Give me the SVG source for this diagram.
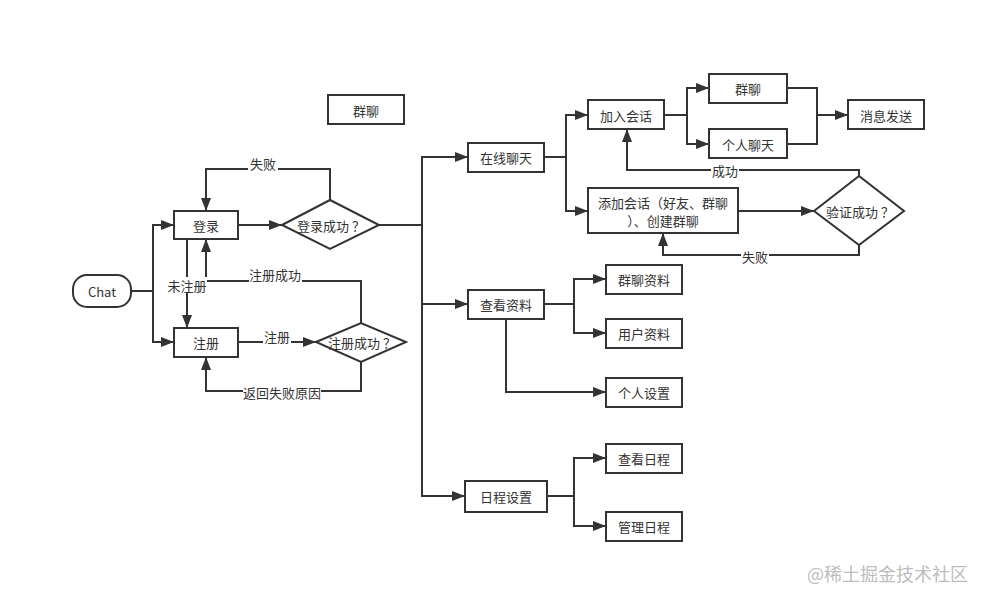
<svg xmlns="http://www.w3.org/2000/svg" width="986" height="602" viewBox="0 0 986 602">
<style>
.box{fill:#fff;stroke:#333;stroke-width:2}
.t{font-family:"Noto Sans CJK SC","Liberation Sans",sans-serif;font-size:13px;fill:#333;text-anchor:middle;dominant-baseline:central}
.c{fill:none;stroke:#333;stroke-width:2}
.lbg{fill:#fff}
.wm{font-family:"Noto Sans CJK SC",sans-serif;font-size:18px;fill:#bdbdbd;text-anchor:end;dominant-baseline:central}
</style>
<defs>
<marker id="a" markerUnits="userSpaceOnUse" markerWidth="14" markerHeight="12" refX="13" refY="5" orient="auto">
<path d="M0,0 L13,5 L0,10 Z" fill="#333"/>
</marker>
</defs>
<rect width="986" height="602" fill="#fff"/>
<g id="connectors">
<path class="c" d="M131,291 H153 V225 H174" marker-end="url(#a)"/>
<path class="c" d="M153,291 V342 H174" marker-end="url(#a)"/>
<path class="c" d="M238,225 H282" marker-end="url(#a)"/>
<path class="c" d="M330,200 V169 H206 V211" marker-end="url(#a)"/>
<path class="c" d="M187,239 V328" marker-end="url(#a)"/>
<path class="c" d="M361,323 V281 H206 V239" marker-end="url(#a)"/>
<path class="c" d="M238,342 H316" marker-end="url(#a)"/>
<path class="c" d="M361,362 V391 H206 V357" marker-end="url(#a)"/>
<path class="c" d="M379,225 H422 V157 H468" marker-end="url(#a)"/>
<path class="c" d="M422,225 V304 H468" marker-end="url(#a)"/>
<path class="c" d="M422,304 V496 H465" marker-end="url(#a)"/>
<path class="c" d="M544,157 H566 V115 H588" marker-end="url(#a)"/>
<path class="c" d="M566,157 V211 H588" marker-end="url(#a)"/>
<path class="c" d="M664,115 H687 V88 H709" marker-end="url(#a)"/>
<path class="c" d="M687,115 V144 H709" marker-end="url(#a)"/>
<path class="c" d="M787,88 H817 V144 H787"/>
<path class="c" d="M817,115 H848" marker-end="url(#a)"/>
<path class="c" d="M738,211 H814" marker-end="url(#a)"/>
<path class="c" d="M859,176 V170 H627 V129" marker-end="url(#a)"/>
<path class="c" d="M859,245 V255 H663 V233" marker-end="url(#a)"/>
<path class="c" d="M544,304 H574 V279 H606" marker-end="url(#a)"/>
<path class="c" d="M574,304 V333 H606" marker-end="url(#a)"/>
<path class="c" d="M506,319 V392 H606" marker-end="url(#a)"/>
<path class="c" d="M547,496 H574 V458 H606" marker-end="url(#a)"/>
<path class="c" d="M574,496 V526 H606" marker-end="url(#a)"/>
<g id="labels">
<rect class="lbg" x="248" y="155" width="30" height="16"/><text class="t" x="263" y="163">失败</text>
<rect class="lbg" x="167" y="277" width="40" height="16"/><text class="t" x="187" y="285">未注册</text>
<rect class="lbg" x="249" y="266" width="53" height="16"/><text class="t" x="275" y="274">注册成功</text>
<rect class="lbg" x="263" y="328" width="28" height="15"/><text class="t" x="277" y="336">注册</text>
<rect class="lbg" x="243" y="384" width="78" height="16"/><text class="t" x="282" y="392">返回失败原因</text>
<rect class="lbg" x="711" y="162" width="28" height="16"/><text class="t" x="725" y="170">成功</text>
<rect class="lbg" x="741" y="248" width="28" height="16"/><text class="t" x="755" y="256">失败</text>
</g>
</g>
<g id="chat"><rect class="box" x="73" y="275" width="58" height="32" rx="14"/><text class="t" x="102" y="291">Chat</text></g>
<g id="login"><rect class="box" x="174" y="211" width="64" height="28"/><text class="t" x="206" y="225">登录</text></g>
<g id="register"><rect class="box" x="174" y="328" width="64" height="29"/><text class="t" x="206" y="342">注册</text></g>
<g id="loginOk"><polygon class="box" points="282,225 330,200 379,225 330,249"/><text class="t" x="331" y="225">登录成功<tspan dx="3">？</tspan></text></g>
<g id="regOk"><polygon class="box" points="316,342 361,323 406,342 361,362"/><text class="t" x="362" y="342">注册成功<tspan dx="3">？</tspan></text></g>
<g id="groupChatTop"><rect class="box" x="328" y="95" width="76" height="29"/><text class="t" x="366" y="110">群聊</text></g>
<g id="online"><rect class="box" x="468" y="143" width="76" height="29"/><text class="t" x="506" y="157">在线聊天</text></g>
<g id="join"><rect class="box" x="588" y="100" width="76" height="29"/><text class="t" x="626" y="115">加入会话</text></g>
<g id="add"><rect class="box" x="588" y="188" width="150" height="45"/><text class="t" x="663" y="202">添加会话（好友、群聊</text><text class="t" x="663" y="220">）、创建群聊</text></g>
<g id="group"><rect class="box" x="709" y="74" width="78" height="29"/><text class="t" x="748" y="88">群聊</text></g>
<g id="personal"><rect class="box" x="709" y="129" width="78" height="29"/><text class="t" x="748" y="144">个人聊天</text></g>
<g id="send"><rect class="box" x="848" y="100" width="76" height="29"/><text class="t" x="886" y="115">消息发送</text></g>
<g id="verify"><polygon class="box" points="814,211 859,176 904,211 859,245"/><text class="t" x="860" y="211">验证成功<tspan dx="3">？</tspan></text></g>
<g id="profile"><rect class="box" x="468" y="290" width="76" height="29"/><text class="t" x="506" y="304">查看资料</text></g>
<g id="groupInfo"><rect class="box" x="606" y="265" width="76" height="29"/><text class="t" x="644" y="279">群聊资料</text></g>
<g id="userInfo"><rect class="box" x="606" y="319" width="76" height="29"/><text class="t" x="644" y="333">用户资料</text></g>
<g id="settings"><rect class="box" x="606" y="378" width="76" height="29"/><text class="t" x="644" y="392">个人设置</text></g>
<g id="schedule"><rect class="box" x="465" y="481" width="82" height="31"/><text class="t" x="506" y="496">日程设置</text></g>
<g id="viewSched"><rect class="box" x="606" y="444" width="76" height="29"/><text class="t" x="644" y="458">查看日程</text></g>
<g id="manageSched"><rect class="box" x="606" y="512" width="76" height="29"/><text class="t" x="644" y="526">管理日程</text></g>
<text class="wm" x="968" y="573">@稀土掘金技术社区</text>
</svg>
